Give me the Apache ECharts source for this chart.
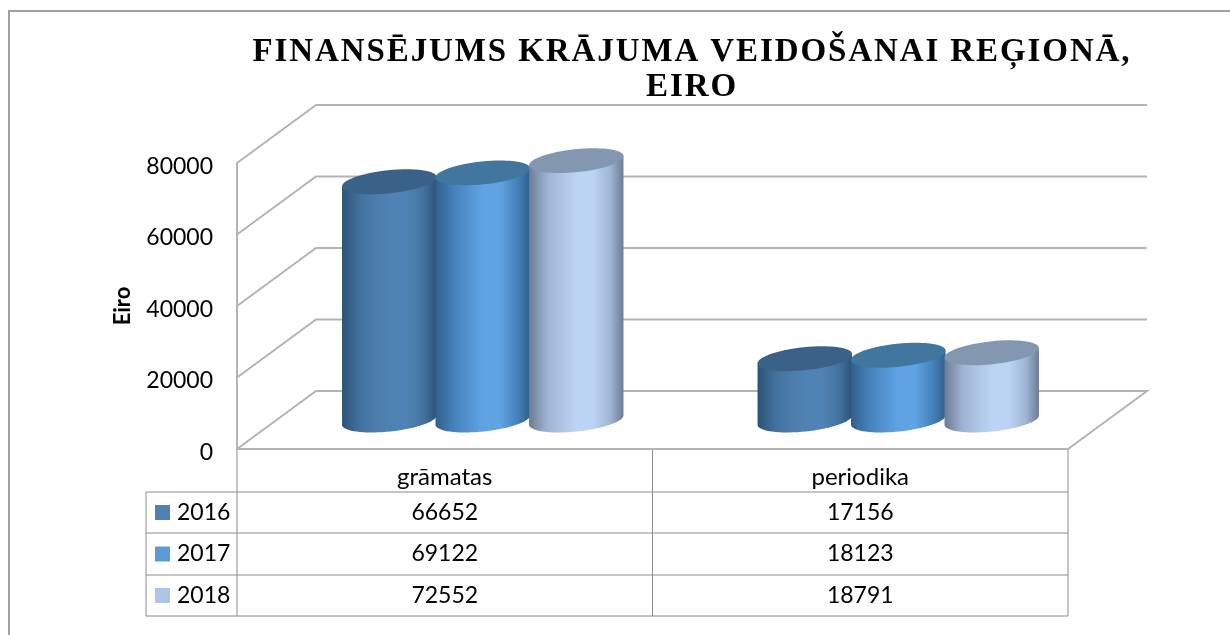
<!DOCTYPE html>
<html>
<head>
<meta charset="utf-8">
<style>html,body{margin:0;padding:0;background:#fff}#c{width:1230px;height:635px}</style>
<script src="https://cdn.jsdelivr.net/npm/echarts@6/dist/echarts.min.js"></script>
</head>
<body>
<div id="c"></div>
<script>
const categories = ['grāmatas', 'periodika'];
const years = ['2016', '2017', '2018'];
const values2016 = [66652, 17156];
const values2017 = [69122, 18123];
const values2018 = [72552, 18791];
const gridTicks = [0, 20000, 40000, 60000, 80000];
const titleText = 'FINANSĒJUMS KRĀJUMA VEIDOŠANAI REĢIONĀ,\nEIRO';
const yAxisName = 'Eiro';

const allValues = [values2016, values2017, values2018];
const swatch = ['#4f81b2', '#5b9bd8', '#aec6e6'];
const edge = ['#2c5378', '#30608c', '#6c7c94'];
const shoulder = ['#44739f', '#4682bb', '#a0b5d5'];
const mid = ['#5083b5', '#60a3e4', '#bcd4f4'];
const topFill = ['#3a6288', '#41779f', '#8398b0'];

const G = { l: 237, r: 1068, t: 163, b: 449 };
const DX = 79, DY = -58;
const TILT = 0.105;
const TITLE_FONT = 'bold 33px "Liberation Serif", serif';

// The canvas API has the letter spacing the title needs; ECharts has no option for it.
const baseFillText = CanvasRenderingContext2D.prototype.fillText;
CanvasRenderingContext2D.prototype.fillText = function (t, x, y, w) {
  const spaced = this.font.indexOf('Liberation Serif') >= 0;
  if (spaced) this.letterSpacing = '1.9px';
  if (w === undefined) baseFillText.call(this, t, x, y); else baseFillText.call(this, t, x, y, w);
  if (spaced) this.letterSpacing = '0px';
};

const chart = echarts.init(document.getElementById('c'));

function wallItem(params, api) {
  const p = api.coord([0, api.value(0)]);
  const x0 = G.l, y = p[1];
  const pts = api.value(0) === 0
    ? [[x0, y], [x0 + DX, y + DY], [G.r + DX, y + DY], [G.r, y], [x0, y]]
    : [[x0, y], [x0 + DX, y + DY], [G.r + DX, y + DY]];
  return {
    type: 'polyline',
    shape: { points: pts },
    style: { fill: null, stroke: '#b4b4b4', lineWidth: 2 },
    silent: true
  };
}

function cylinder(si) {
  return function (params, api) {
    const base = api.coord([api.value(0), 0]);
    const top = api.coord([api.value(0), api.value(1)]);
    const band = api.size([1, 0])[0];
    const step = band * 0.225;
    const rx = band * 0.1143;
    const ry = 11.5;
    const cx = base[0] + DX / 2 - 1.5 + (si - 1) * step;
    const by = base[1] + DY / 2;
    const ty = top[1] + DY / 2;
    const c = Math.cos(TILT), s = Math.sin(TILT);
    const dx = rx * c, dy = rx * s;
    const grad = new echarts.graphic.LinearGradient(cx - dx, 0, cx + dx, 0, [
      { offset: 0, color: edge[si] },
      { offset: 0.2, color: shoulder[si] },
      { offset: 0.5, color: mid[si] },
      { offset: 0.68, color: mid[si] },
      { offset: 0.86, color: shoulder[si] },
      { offset: 1, color: edge[si] }
    ], true);
    const pts = [[cx - dx, ty + dy], [cx + dx, ty - dy]];
    const N = 36;
    for (let i = 0; i <= N; i++) {
      const t = Math.PI * i / N;
      const u = rx * Math.cos(t), v = ry * Math.sin(t);
      pts.push([cx + u * c + v * s, by - u * s + v * c]);
    }
    return {
      type: 'group',
      children: [
        { type: 'polygon', shape: { points: pts }, style: { fill: grad } },
        { type: 'ellipse', shape: { cx: 0, cy: 0, rx: rx, ry: ry }, x: cx, y: ty, rotation: TILT,
          style: { fill: topFill[si] } }
      ]
    };
  };
}

// Data table, built from the arrays
const graphics = [];
const tColor = '#8c8c8c';
const rows = [449, 492, 533, 575, 616];
const colX = [146, G.l, (G.l + G.r) / 2, G.r];
function line(x1, y1, x2, y2) {
  graphics.push({ type: 'line', shape: { x1, y1, x2, y2 }, style: { stroke: tColor, lineWidth: 1 }, silent: true });
}
line(G.l, 449, G.l, 616);
line(colX[2], 449, colX[2], 616);
line(G.r, 449, G.r, 616);
line(146, 492, 146, 616);
for (let i = 1; i < rows.length; i++) line(146, rows[i], G.r, rows[i]);
const cellFont = '23px Lato, Carlito, sans-serif';
years.forEach((yr, i) => {
  const yc = (rows[i + 1] + rows[i + 2]) / 2;
  graphics.push({ type: 'rect', shape: { x: 155, y: yc - 7.5, width: 15, height: 15 }, style: { fill: swatch[i] } });
  graphics.push({ type: 'text', x: 177, y: yc, style: { text: yr, font: cellFont, fill: '#000', verticalAlign: 'middle' } });
  categories.forEach((c, j) => {
    graphics.push({ type: 'text', x: (colX[j + 1] + colX[j + 2]) / 2, y: yc,
      style: { text: String(allValues[i][j]), font: cellFont, fill: '#000', align: 'center', verticalAlign: 'middle' } });
  });
});
// chart frame (left and top edges only)
graphics.push({ type: 'polyline', shape: { points: [[9, 635], [9, 11], [1230, 11]] }, style: { fill: null, stroke: '#a0a0a0', lineWidth: 2 }, silent: true });
// title
graphics.push({ type: 'text', x: 692, y: 70,
  style: { text: titleText, font: TITLE_FONT, fill: '#000', align: 'center', verticalAlign: 'middle', lineHeight: 35 } });

const series = [
  { type: 'custom', name: 'walls', data: gridTicks.map(v => [v]), renderItem: wallItem, z: 1, silent: true, clip: false,
    encode: { y: 0 } }
];
years.forEach((yr, i) => {
  series.push({
    type: 'custom', name: yr, z: 5 + i, clip: false,
    data: categories.map((c, j) => [j, allValues[i][j]]),
    renderItem: cylinder(i),
    encode: { x: 0, y: 1 }
  });
});

chart.setOption({
  animation: false,
  backgroundColor: '#fff',
  grid: { left: G.l, top: G.t, width: G.r - G.l, height: G.b - G.t },
  xAxis: {
    type: 'category', data: categories,
    axisLine: { show: false }, axisTick: { show: false }, splitLine: { show: false },
    axisLabel: { color: '#000', fontFamily: 'Lato, Carlito, sans-serif', fontSize: 24, margin: 16 }
  },
  yAxis: {
    type: 'value', min: 0, max: 80000, interval: 20000,
    axisLine: { show: true, lineStyle: { color: '#b4b4b4', width: 2 } },
    axisTick: { show: false }, splitLine: { show: false },
    axisLabel: { color: '#000', fontFamily: 'Lato, Carlito, sans-serif', fontSize: 23, margin: 24,
      verticalAlign: 'top', lineHeight: 7, formatter: v => String(v) },
    name: yAxisName, nameLocation: 'middle', nameGap: 103, nameRotate: 90,
    nameTextStyle: { color: '#000', fontFamily: 'Lato, Carlito, sans-serif', fontWeight: 'bold', fontSize: 22 }
  },
  graphic: graphics,
  series: series
});
</script>
</body>
</html>
